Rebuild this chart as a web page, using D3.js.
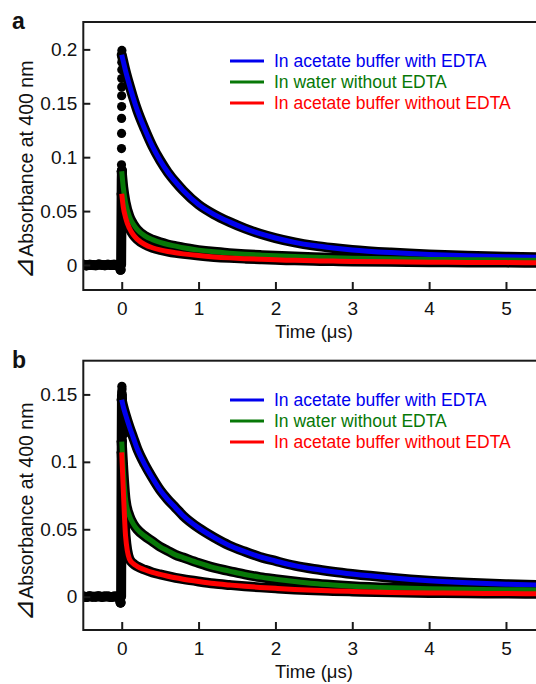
<!DOCTYPE html>
<html><head><meta charset="utf-8">
<script src="https://cdn.jsdelivr.net/npm/d3@7"></script>
<style>
html,body{margin:0;padding:0;background:#fff;}
text{font-family:Arial,"Liberation Sans",sans-serif;}
</style></head>
<body>
<svg id="chart" width="536" height="684"></svg>
<script>
// ---------- data ----------
const seriesNames = ["In acetate buffer with EDTA","In water without EDTA","In acetate buffer without EDTA"];
const seriesColors = ["#0000ee","#077807","#ff0000"];
const xTicks = [0,1,2,3,4,5];
const yTicksA = [0,0.05,0.1,0.15,0.2];
const yTickLabelsA = ["0","0.05","0.1","0.15","0.2"];
const yTicksB = [0,0.05,0.1,0.15];
const yTickLabelsB = ["0","0.05","0.1","0.15"];

// pre-trigger baseline (shared by all traces)
const tBase = [-0.5,-0.46,-0.42,-0.38,-0.34,-0.3,-0.26,-0.22,-0.18,-0.14,-0.1,-0.06,-0.03,-0.015];
const baseA = [0.0003,-0.0004,0.0002,0.0000,-0.0003,0.0004,0.0001,-0.0002,0.0003,-0.0001,0.0002,0.0000,-0.0010,-0.0045];
const baseB = [0.0002,-0.0003,0.0003,-0.0001,0.0000,0.0003,-0.0002,0.0001,0.0002,-0.0003,0.0001,0.0002,-0.0012,-0.0045];

// instrument rise at t = 0
const tRise = [-0.008,-0.006,-0.004,-0.002,0.000,0.003];
const riseA = [0.000,0.020,0.040,0.060,0.080,0.088];
const riseB = [0.000,0.030,0.060,0.090,0.120,0.150];
// discrete points of the fast rising edge (blue trace)
const tSpikeA = [-0.003,-0.003,-0.002,-0.002,-0.001,-0.001,0.000,0.000,0.001,0.001,0.002,0.002];
const spikeA = [0.093,0.108,0.122,0.136,0.147,0.157,0.165,0.173,0.181,0.188,0.194,0.199];
const tSpikeB = [0.000,0.002,0.004,0.010,0.025,0.035];
const spikeB = [0.152,0.156,0.154,0.138,0.128,0.121];

// decay traces (measured band) and fitted curves share this time grid (µs)
const tDecay = [0,0.02,0.05,0.1,0.15,0.2,0.3,0.4,0.5,0.6,0.7,0.8,1.0,1.2,1.4,1.6,1.8,2.0,2.25,2.5,2.75,3.0,3.5,4.0,4.5,5.0,5.5];

const blueA  = [0.195,0.189,0.180,0.167,0.155,0.144,0.126,0.110,0.097,0.086,0.077,0.069,0.056,0.047,0.040,0.034,0.029,0.025,0.021,0.018,0.0158,0.014,0.0115,0.0097,0.0085,0.0077,0.0071];
const greenA = [0.087,0.072,0.058,0.045,0.038,0.033,0.027,0.0235,0.021,0.019,0.0175,0.016,0.0138,0.0122,0.011,0.0100,0.0092,0.0085,0.0078,0.0072,0.0067,0.0063,0.0057,0.0052,0.0049,0.0046,0.0044];
const redA   = [0.066,0.054,0.044,0.034,0.028,0.024,0.019,0.016,0.014,0.0125,0.0113,0.0103,0.0087,0.0075,0.0066,0.0059,0.0053,0.0048,0.0043,0.0039,0.0036,0.0033,0.0029,0.0026,0.0024,0.0022,0.0021];

const blueB  = [0.146,0.141,0.135,0.126,0.118,0.110,0.098,0.088,0.079,0.072,0.066,0.060,0.051,0.044,0.038,0.0335,0.0295,0.0265,0.023,0.0205,0.0185,0.0168,0.0140,0.0118,0.0103,0.0093,0.0086];
const greenB = [0.115,0.095,0.072,0.060,0.054,0.050,0.045,0.041,0.037,0.034,0.031,0.029,0.025,0.0215,0.019,0.0165,0.0145,0.013,0.0113,0.0098,0.0087,0.0078,0.0066,0.0059,0.0055,0.0052,0.0050];
const redB   = [0.107,0.080,0.045,0.028,0.0245,0.0225,0.020,0.018,0.0165,0.0152,0.014,0.013,0.0113,0.0098,0.0087,0.0077,0.0069,0.0062,0.0054,0.0048,0.0043,0.0039,0.0032,0.0028,0.0025,0.0023,0.0021];

// ---------- drawing ----------
const svg = d3.select("#chart");

function panel(cfg){
  const x = d3.scaleLinear().domain([-0.5,5.5]).range([83.3,544.4]);
  const y = d3.scaleLinear().domain(cfg.yDomain).range([cfg.bottom,cfg.top]);
  const g = svg.append("g");
  const clipId = "clip"+cfg.id;
  g.append("clipPath").attr("id",clipId).append("rect")
    .attr("x",84).attr("y",cfg.top+1).attr("width",460).attr("height",cfg.bottom-cfg.top-2);
  const plot = g.append("g").attr("clip-path",`url(#${clipId})`);

  const line = d3.line().x(d=>x(d[0])).y(d=>y(d[1]));
  const curve = d3.line().x(d=>x(d[0])).y(d=>y(d[1])).curve(d3.curveMonotoneX);
  const band = (pts)=>plot.append("path").datum(pts).attr("d",line)
      .attr("fill","none").attr("stroke","#000").attr("stroke-width",10)
      .attr("stroke-linejoin","round").attr("stroke-linecap","round");

  // baseline + rise
  band(tBase.map((t,i)=>[t,cfg.base[i]]));
  band(tRise.map((t,i)=>[t,cfg.rise[i]]));
  plot.selectAll(null).data(tBase.map((t,i)=>[t,cfg.base[i]])).enter().append("circle")
    .attr("cx",d=>x(d[0])).attr("cy",d=>y(d[1])).attr("r",5).attr("fill","#000");
  // measured decays (black)
  const riseTop = cfg.rise[cfg.rise.length-1];
  cfg.traces.forEach(vals=>{
    const pts = tDecay.map((t,i)=>[t,vals[i]]);
    plot.append("path").datum(pts).attr("d",curve).attr("fill","none")
      .attr("stroke","#000").attr("stroke-width",10).attr("stroke-linejoin","round").attr("stroke-linecap","round");
    if (vals[0] <= riseTop + 0.01) {
      plot.append("path").datum([[tRise[tRise.length-1],Math.min(riseTop,vals[0])],[0,vals[0]]]).attr("d",line)
        .attr("fill","none").attr("stroke","#000").attr("stroke-width",10).attr("stroke-linecap","round");
    }
  });
  // spike points
  plot.selectAll(null).data(cfg.tSpike.map((t,i)=>[t,cfg.spike[i]])).enter().append("circle")
    .attr("cx",d=>x(d[0])).attr("cy",d=>y(d[1])).attr("r",4.6).attr("fill","#000");
  // fits
  cfg.traces.forEach((vals,k)=>{
    const pts = tDecay.map((t,i)=>[t,vals[i]]);
    plot.append("path").datum(pts).attr("d",curve).attr("fill","none")
      .attr("stroke",seriesColors[k]).attr("stroke-width",5).attr("stroke-linecap","butt");
  });

  // frame
  g.append("rect").attr("x",83.3).attr("y",cfg.top).attr("width",470).attr("height",cfg.bottom-cfg.top)
    .attr("fill","none").attr("stroke","#1a1a1a").attr("stroke-width",2);

  // axes
  const xa = g.append("g").attr("transform",`translate(0,${cfg.bottom})`)
    .call(d3.axisBottom(x).tickValues(xTicks).tickFormat(d3.format("d")).tickSizeInner(-8).tickSizeOuter(0).tickPadding(12));
  const ya = g.append("g").attr("transform","translate(83.3,0)")
    .call(d3.axisLeft(y).tickValues(cfg.yTicks).tickFormat((d,i)=>cfg.yLabels[i]).tickSizeInner(-7).tickSizeOuter(0).tickPadding(6));
  [xa,ya].forEach(a=>{
    a.select(".domain").remove();
    a.selectAll("line").attr("stroke","#1a1a1a").attr("stroke-width",2);
    a.selectAll("text").attr("font-size",19).attr("fill","#111").style("font-family","Arial, 'Liberation Sans', sans-serif");
  });

  // axis titles
  g.append("text").attr("x",314).attr("y",cfg.bottom+48).attr("text-anchor","middle")
    .attr("font-size",18.5).attr("fill","#111").text("Time (μs)");
  const yt = g.append("text").attr("transform",`translate(33,${cfg.labelY}) rotate(-90)`).attr("text-anchor","middle")
    .attr("font-size",19.5).attr("fill","#111");
  yt.append("tspan").attr("font-size",27).style("font-family","'DejaVu Sans', sans-serif").text("⊿");
  yt.append("tspan").text("Absorbance at 400 nm");
  // panel letter
  g.append("text").attr("x",12).attr("y",cfg.top+7).attr("font-size",23).attr("font-weight","bold")
    .attr("fill","#111").text(cfg.letter);

  // legend
  seriesNames.forEach((name,k)=>{
    const ly = cfg.legendY + k*21;
    g.append("line").attr("x1",230).attr("x2",264).attr("y1",ly).attr("y2",ly)
      .attr("stroke",seriesColors[k]).attr("stroke-width",3);
    g.append("text").attr("x",274).attr("y",ly).attr("dy","0.35em")
      .attr("font-size",17.5).attr("fill",seriesColors[k]).text(name);
  });
}

panel({id:"a",letter:"a",top:22,bottom:290,yDomain:[-0.0232,0.2254],yTicks:yTicksA,yLabels:yTickLabelsA,
  base:baseA,rise:riseA,tSpike:tSpikeA,spike:spikeA,traces:[blueA,greenA,redA],legendY:61,labelY:170});
panel({id:"b",letter:"b",top:360.7,bottom:630,yDomain:[-0.0247,0.175],yTicks:yTicksB,yLabels:yTickLabelsB,
  base:baseB,rise:riseB,tSpike:tSpikeB,spike:spikeB,traces:[blueB,greenB,redB],legendY:400,labelY:512});
</script>
</body></html>
